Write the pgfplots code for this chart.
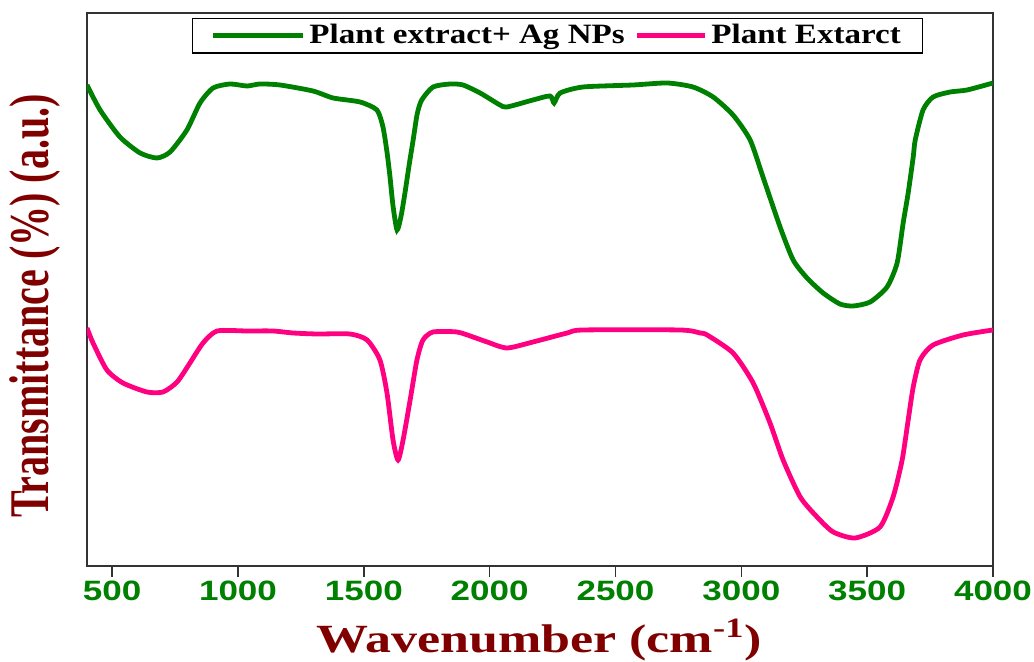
\documentclass[border=0pt]{standalone}
\usepackage{pgfplots}
\pgfplotsset{compat=1.18}
\usepackage{graphicx}
\usepackage{fontspec}
\setmainfont{Liberation Serif}
\newfontfamily\tickfont{Liberation Sans}
\definecolor{cgreen}{RGB}{0,128,0}
\definecolor{cpink}{RGB}{255,0,128}
\definecolor{cmaroon}{RGB}{128,0,0}
\newcommand{\tl}[1]{\scalebox{1.25}[1]{#1}}
\pgfplotstableread{
w y
400 577
452 552
531 525
611 509
678 504
730 510
797 532
849 559
901 574
968 578
1036 576
1087 578
1167 577
1298 571
1378 564
1485 560
1552 552
1576 535
1592 510
1604 485
1616 456
1632 432
1648 446
1664 470
1680 497
1696 522
1712 548
1730 562
1775 575
1843 578
1894 577
1962 569
2041 557
2069 555
2172 562
2240 566
2256 559
2280 569
2371 575
2570 577
2705 579
2808 575
2888 565
2967 547
3035 522
3086 485
3154 435
3206 402
3261 384
3325 369
3392 358
3444 356
3512 360
3579 375
3619 399
3643 439
3663 469
3683 505
3691 522
3722 552
3762 565
3830 570
3897 572
4000 579
}\greendata
\pgfplotstableread{
w y
400 334
424 319
479 292
543 279
638 270
702 270
758 280
809 299
861 319
917 331
1036 331
1139 331
1219 329
1314 328
1445 328
1513 322
1564 302
1592 269
1616 222
1636 202
1656 222
1684 262
1711 302
1735 322
1775 330
1870 330
1934 325
1990 320
2069 314
2172 320
2308 329
2371 332
2757 332
2836 329
2864 327
2967 309
3047 279
3114 239
3166 202
3234 165
3301 145
3365 130
3452 124
3551 135
3603 165
3639 202
3663 242
3683 275
3710 302
3762 317
3881 327
4000 332
}\pinkdata
\begin{document}
\begin{tikzpicture}
\useasboundingbox (-43.5pt,-48pt) rectangle (473.5pt,283pt);
\begin{axis}[
  at={(0,0)}, anchor=south west,
  scale only axis,
  width=453pt, height=276.5pt,
  xmin=400, xmax=4000, ymin=96, ymax=649,
  axis line style={line width=0.8pt, color=black!80},
  xtick={500,1000,1500,2000,2500,3000,3500,4000},
  xticklabels={\tl{500},\tl{1000},\tl{1500},\tl{2000},\tl{2500},\tl{3000},\tl{3500},\tl{4000}},
  xtick pos=bottom,
  tick align=outside,
  major tick length=5.5pt,
  xtick style={line width=0.8pt, color=black!80},
  ytick=\empty,
  xticklabel style={font=\tickfont\bfseries\fontsize{14}{16}\selectfont, text=cgreen, inner sep=2pt},
  xlabel={\scalebox{1.3}[1]{Wavenumber (cm\textsuperscript{-1})}},
  xlabel style={font=\bfseries\fontsize{20}{24}\selectfont, text=cmaroon, at={(axis description cs:0.499,-0.134)}, anchor=center},
  ylabel={\scalebox{1}[1.4]{Transmittance (\%) (a.u.)}},
  ylabel style={font=\bfseries\fontsize{20}{24}\selectfont, text=cmaroon, at={(axis description cs:-0.057,0.47)}, anchor=center},
  legend columns=2,
  legend style={at={(axis description cs:0.116,0.991)}, anchor=north west,
    draw=black, line width=0.6pt, font=\bfseries\fontsize{14}{15}\selectfont,
    inner xsep=9pt, inner ysep=1pt, /tikz/every even column/.append style={column sep=3pt}},
  legend image code/.code={\draw[#1, line width=2.4pt] (0pt,0pt) -- (34pt,0pt);},
]
\addplot[cgreen, line width=2.4pt, smooth, tension=0.4,
  legend image code/.code={\path (0pt,0pt) -- (11pt,0pt); \draw[cgreen, line width=2.4pt] (11pt,0pt) -- (45pt,0pt);}] table[x=w,y=y] {\greendata};
\addlegendentry{\scalebox{1.18}[1]{Plant extract+ Ag NPs}}
\addplot[cpink, line width=2.4pt, smooth, tension=0.4] table[x=w,y=y] {\pinkdata};
\addlegendentry{\scalebox{1.18}[1]{Plant Extarct}}
\end{axis}
\end{tikzpicture}
\end{document}
